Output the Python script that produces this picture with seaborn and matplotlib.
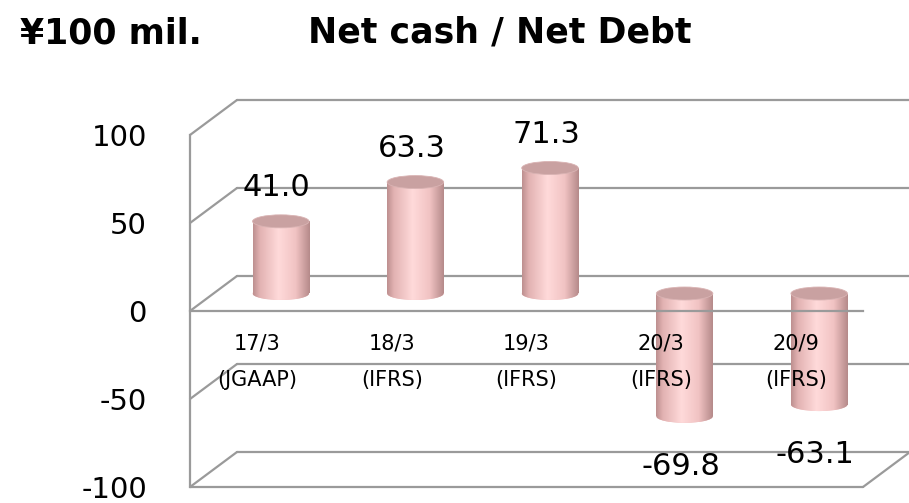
import numpy as np
import pandas as pd
import matplotlib
matplotlib.use("Agg")
import matplotlib.pyplot as plt
import seaborn as sns
from matplotlib.patches import Ellipse
from matplotlib.colors import LinearSegmentedColormap

# datos del grafico
periods = ["17/3\n(JGAAP)", "18/3\n(IFRS)", "19/3\n(IFRS)", "20/3\n(IFRS)", "20/9\n(IFRS)"]
net_cash = [41.0, 63.3, 71.3, -69.8, -63.1]
y_ticks = [-100, -50, 0, 50, 100]
y_labels = ["-100", "-50", "0", "50", "100"]

df = pd.DataFrame({"period": periods, "value": net_cash})

sns.set_theme(style="white")
plt.rcParams["font.family"] = ["DejaVu Sans"]
plt.rcParams["text.color"] = "black"

W, H = 909, 503
fig = plt.figure(figsize=(W / 100, H / 100), dpi=100)
ax = fig.add_axes([190 / W, 16 / H, 673 / W, 352 / H])
ax.set_facecolor("none")

# profundidad del "3D" en unidades de datos
px_cat = 673 / 5
px_unit = 352 / 200
DX = 47 / px_cat
DY = 35 / px_unit
ELL = 13 / px_unit
GRID = "#9a9a9a"

sns.barplot(data=df, x="period", y="value", width=0.42, color="#f2c4c4",
            saturation=1, ax=ax, zorder=2)

# pared del fondo
for v in y_ticks:
    ax.plot([-0.5 + DX, 4.5 + DX], [v + DY, v + DY], color=GRID, lw=1.6,
            clip_on=False, zorder=0.5)
    ax.plot([-0.5, -0.5 + DX], [v, v + DY], color=GRID, lw=1.6,
            clip_on=False, zorder=0.5)
ax.plot([-0.5, 4.5], [-100, -100], color=GRID, lw=1.6, clip_on=False, zorder=3)
ax.plot([4.5, 4.5 + DX], [-100, -100 + DY], color=GRID, lw=1.6, clip_on=False, zorder=3)

# cilindros
cmap = LinearSegmentedColormap.from_list("cyl", [
    (0.0, "#bd8f8f"), (0.12, "#e2b2b2"), (0.45, "#ffdada"),
    (0.75, "#f1c3c3"), (1.0, "#b58a8a")])
grad = np.linspace(0, 1, 256).reshape(1, -1)

for p, val in zip(ax.patches, net_cash):
    x0 = p.get_x() + DX / 2
    w = p.get_width()
    p.set_x(x0)
    p.set_y(DY / 2)
    p.set_linewidth(0)
    lo = DY / 2 + min(val, 0)
    hi = DY / 2 + max(val, 0)
    bottom = Ellipse((x0 + w / 2, lo), w, ELL, facecolor="#f2c4c4", lw=0, zorder=2)
    ax.add_patch(bottom)
    for clip in (p, bottom):
        im = ax.imshow(grad, cmap=cmap, extent=[x0, x0 + w, lo - ELL, hi],
                       aspect="auto", zorder=2.1)
        im.set_clip_path(clip)
    ax.add_patch(Ellipse((x0 + w / 2, hi), w, ELL, facecolor="#c9a1a1",
                         edgecolor="#d9b3b3", lw=0.6, zorder=2.2))
    if val >= 0:
        ax.annotate(f"{val:.1f}", (x0 + w / 2, hi), xytext=(-4, 34),
                    textcoords="offset pixels", ha="center", va="center",
                    fontsize=22, color="black", zorder=6)
    else:
        ax.annotate(f"{val:.1f}", (x0 + w / 2, lo), xytext=(-4, -50),
                    textcoords="offset pixels", ha="center", va="center",
                    fontsize=22, color="black", zorder=6)

ax.set_xlim(-0.5, 4.5)
ax.set_ylim(-100, 100)
ax.set_yticks(y_ticks)
ax.set_yticklabels(y_labels)
ax.set_xticks(range(len(periods)))
ax.set_xticklabels(periods, linespacing=2.05)
ax.tick_params(axis="y", length=0, pad=31, labelsize=21, labelcolor="black")
ax.tick_params(axis="x", length=0, pad=16, labelsize=15, labelcolor="black")
ax.set_xlabel("")
ax.set_ylabel("")

ax.spines["top"].set_visible(False)
ax.spines["right"].set_visible(False)
ax.spines["bottom"].set_position(("data", 0))
for s in ("left", "bottom"):
    ax.spines[s].set_color(GRID)
    ax.spines[s].set_linewidth(1.6)
    ax.spines[s].set_zorder(3)
ax.xaxis.set_zorder(4)
ax.yaxis.set_zorder(4)

fig.text(20 / W, 1 - 43 / H, "¥100 mil.", fontsize=25, fontweight="bold",
         ha="left", va="baseline", color="black")
fig.text(500 / W, 1 - 43 / H, "Net cash / Net Debt", fontsize=25,
         fontweight="bold", ha="center", va="baseline", color="black")

fig.canvas.draw()
for t in ax.get_xticklabels():
    t.set_linespacing(2.05)

fig.savefig("out.png", dpi=100)
